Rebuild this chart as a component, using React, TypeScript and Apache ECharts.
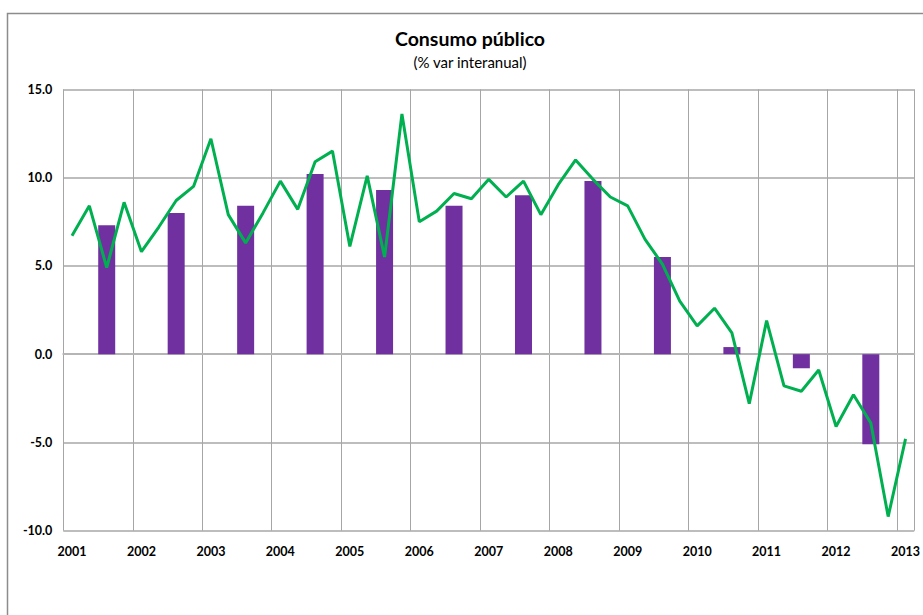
import React, { useEffect, useRef } from "react";
import * as echarts from "echarts";

const years = ["2001", "2002", "2003", "2004", "2005", "2006", "2007", "2008", "2009", "2010", "2011", "2012", "2013"];
const quarterNames = ["T1", "T2", "T3", "T4"];

// quarterly % var interanual (2001 T1 .. 2013 T1)
const quarterly = [
  6.7, 8.4, 4.9, 8.6,
  5.8, 7.2, 8.7, 9.5,
  12.2, 7.9, 6.3, 8.0,
  9.8, 8.2, 10.9, 11.5,
  6.1, 10.1, 5.5, 13.6,
  7.5, 8.1, 9.1, 8.8,
  9.9, 8.9, 9.8, 7.9,
  9.6, 11.0, 9.9, 8.9,
  8.4, 6.5, 5.1, 3.0,
  1.6, 2.6, 1.2, -2.8,
  1.9, -1.8, -2.1, -0.9,
  -4.1, -2.3, -3.9, -9.2,
  -4.8,
];

// annual values (2001 .. 2012), drawn at the third quarter of each year
const annual = [7.3, 8.0, 8.4, 10.2, 9.3, 8.4, 9.0, 9.8, 5.5, 0.4, -0.8, -5.1];

const yTicks = { min: -10, max: 15, interval: 5 };

const categories: string[] = [];
years.forEach((y) => quarterNames.forEach((q) => categories.push(`${y} ${q}`)));
categories.length = quarterly.length;

const barData = categories.map((_, i) => {
  const yearIdx = Math.floor(i / 4);
  return i % 4 === 2 && yearIdx < annual.length ? annual[yearIdx] : "-";
});

const FONT = "Lato, 'DejaVu Sans', sans-serif";

export default function App() {
  const ref = useRef<HTMLDivElement>(null);
  useEffect(() => {
    document.body.style.margin = "0";
    if (!ref.current) return;
    const chart = echarts.init(ref.current, null, { renderer: "svg" });
    chart.setOption({
      animation: false,
      backgroundColor: "#ffffff",
      graphic: [
        {
          type: "rect",
          shape: { x: 7.5, y: 13.5, width: 1000, height: 1000 },
          style: { fill: "none", stroke: "#8c8c8c", lineWidth: 1.5 },
          silent: true,
        },
        {
          type: "text",
          x: 470,
          y: 38,
          style: {
            text: "Consumo público",
            font: `bold 19.5px ${FONT}`,
            fill: "#000",
            textAlign: "center",
            textVerticalAlign: "middle",
          },
        },
        {
          type: "text",
          x: 470,
          y: 62,
          style: {
            text: "(% var interanual)",
            font: `15px ${FONT}`,
            fill: "#000",
            textAlign: "center",
            textVerticalAlign: "middle",
          },
        },
      ],
      grid: { left: 63.3, top: 89.3, width: 855.2, height: 441.4, containLabel: false },
      xAxis: {
        type: "category",
        data: categories,
        boundaryGap: true,
        axisLine: { show: true, lineStyle: { color: "#b5b5b5", width: 2 } },
        axisTick: { show: false },
        axisLabel: {
          interval: (i: number) => i % 4 === 0,
          formatter: (v: string) => v.split(" ")[0],
          fontFamily: FONT,
          fontWeight: "bold",
          fontSize: 12.5,
          color: "#000",
          margin: 14,
        },
        splitLine: {
          show: true,
          interval: (i: number) => i % 4 === 0,
          lineStyle: { color: "#a6a6a6", width: 1 },
        },
      },
      yAxis: {
        type: "value",
        min: yTicks.min,
        max: yTicks.max,
        interval: yTicks.interval,
        axisLine: { show: false },
        axisTick: { show: false },
        axisLabel: {
          formatter: (v: number) => v.toFixed(1),
          fontFamily: FONT,
          fontWeight: "bold",
          fontSize: 12.5,
          color: "#000",
          margin: 11,
        },
        splitLine: { show: true, lineStyle: { color: "#bdbdbd", width: 2 } },
      },
      series: [
        {
          type: "bar",
          data: barData,
          barWidth: 17,
          itemStyle: { color: "#7030a0" },
          z: 2,
        },
        {
          type: "line",
          data: quarterly,
          symbol: "none",
          lineStyle: { color: "#00b050", width: 3 },
          itemStyle: { color: "#00b050" },
          z: 3,
        },
      ],
    });
    return () => chart.dispose();
  }, []);
  return <div ref={ref} style={{ width: 923, height: 615 }} />;
}
